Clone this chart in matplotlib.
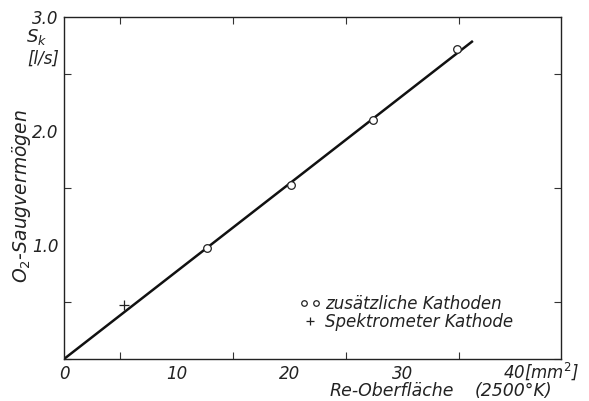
import matplotlib
matplotlib.use("Agg")
import matplotlib.pyplot as plt
from matplotlib.ticker import MultipleLocator, FixedLocator, FixedFormatter
from matplotlib.legend_handler import HandlerLine2D

# data
kath_x = [12.7, 20.1, 27.4, 34.8]
kath_y = [0.97, 1.53, 2.10, 2.72]
spek_x = [5.3]
spek_y = [0.47]
fit_x = [0, 36.2]
fit_y = [0, 2.79]
xticks = [0, 10, 20, 30, 40]
xticklabels = ["0", "10", "20", "30", "40"]
x_unit = "[mm$^2$]"
yticks = [1.0, 2.0, 3.0]
yticklabels = ["1.0", "2.0", "3.0"]

plt.rcParams['font.family'] = ['DejaVu Sans']
fs = 12
col = '#222222'
fig = plt.figure(figsize=(5.89, 4.01), dpi=100)
ax = fig.add_axes([64/589, 42/401, 497/589, 342/401])

ax.plot(fit_x, fit_y, color='#111111', lw=1.8, solid_capstyle='butt')
circ, = ax.plot(kath_x, kath_y, ls='none', marker='o', ms=5.5, mfc='white', mec=col, mew=0.9,
                label='zusätzliche Kathoden')
plus, = ax.plot(spek_x, spek_y, ls='none', marker='+', ms=7, mec=col, mew=0.9,
                label='Spektrometer Kathode')

ax.set_xlim(0, 44)
ax.set_ylim(0, 3.0)

for s in ax.spines.values():
    s.set_linewidth(1.0)
    s.set_color(col)

ax.xaxis.set_major_locator(FixedLocator(xticks))
ax.xaxis.set_major_formatter(FixedFormatter(xticklabels[:-1] + [""]))
ax.xaxis.set_minor_locator(MultipleLocator(5))
ax.yaxis.set_major_locator(FixedLocator(yticks))
ax.yaxis.set_major_formatter(FixedFormatter(yticklabels))
ax.yaxis.set_minor_locator(MultipleLocator(0.5))
ax.tick_params(which='both', direction='in', top=True, right=True, length=5, width=0.8,
               color='#333333', labelsize=fs)
ax.tick_params(which='major', length=0)
ax.tick_params(axis='x', pad=4)
ax.tick_params(axis='y', pad=4)
for lab in ax.get_xticklabels() + ax.get_yticklabels():
    lab.set_fontstyle('italic')
    lab.set_color(col)

tkw = dict(fontsize=fs, style='italic', color=col)
# last x tick label with unit
fig.text(503/589, 1 - 371/401, xticklabels[-1] + x_unit, ha='left', va='center', **tkw)
fig.text(330/589, 1 - 391/401, "Re-Oberfläche", ha='left', va='center', fontsize=12.5,
         style='italic', color=col)
fig.text(475/589, 1 - 391/401, "(2500°K)", ha='left', va='center', fontsize=12.5,
         style='italic', color=col)
fig.text(37/589, 1 - 37/401, "$S_k$", ha='center', va='center', fontsize=fs + 1,
         style='italic', color=col)
fig.text(43/589, 1 - 59/401, "[l/s]", ha='center', va='center', **tkw)
fig.text(22/589, 1 - 196/401, "O$_2$-Saugvermögen", rotation=90, ha='center', va='center',
         fontsize=13.5, style='italic', color=col)

leg = ax.legend(handles=[circ, plus], loc='upper left', bbox_to_anchor=(0.456, 0.212),
                frameon=False, handlelength=1.3, handletextpad=0.25, labelspacing=0.0,
                borderpad=0, prop=dict(size=fs, style='italic'),
                handler_map={circ: HandlerLine2D(numpoints=2), plus: HandlerLine2D(numpoints=1)})
leg.legend_handles[0].set_markersize(4)
leg.legend_handles[1].set_markersize(6)
for t in leg.get_texts():
    t.set_color(col)

fig.savefig("out.png", dpi=100)
